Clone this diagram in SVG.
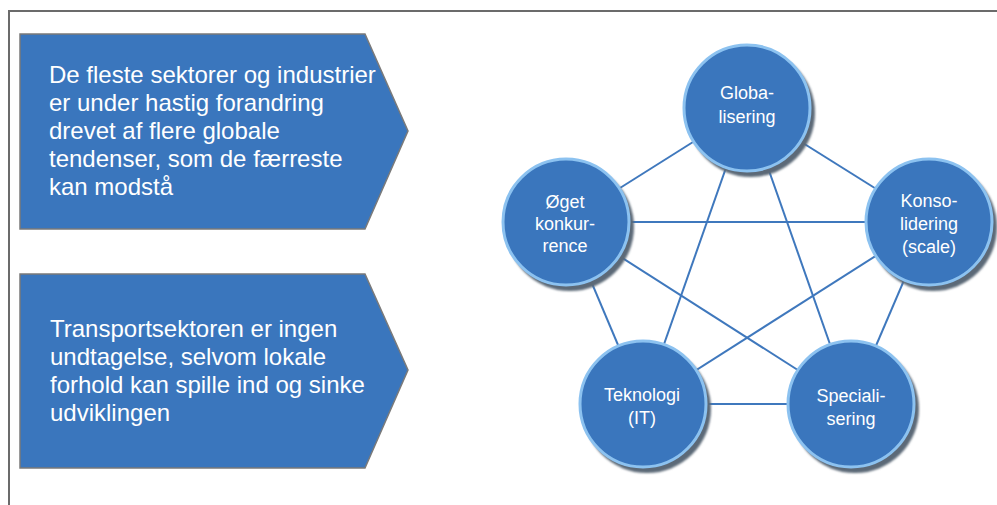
<svg xmlns="http://www.w3.org/2000/svg" width="997" height="505" viewBox="0 0 997 505">
  <defs>
    <style>
      .frame { fill: none; stroke: #6b6b6b; stroke-width: 2; }
      .box { fill: #3a76bd; stroke: #7a7a7a; stroke-width: 1.5; }
      .boxtext { font-family: "Liberation Sans", Arial, sans-serif; font-size: 24px; fill: #ffffff; }
      .edge { stroke: #3f78bd; stroke-width: 2; fill: none; }
      .shadow { fill: #5b6977; }
      .disc { fill: #3a76bd; stroke: #8cc2f0; stroke-width: 3; }
      .label { font-family: "Liberation Sans", Arial, sans-serif; font-size: 18px; fill: #ffffff; text-anchor: middle; }
    </style>
    <filter id="soft" x="-20%" y="-20%" width="140%" height="140%">
      <feGaussianBlur stdDeviation="1.2"/>
    </filter>
  </defs>

  <rect width="997" height="505" fill="#ffffff"/>

  <!-- slide frame, open to the right and bottom -->
  <path class="frame" d="M9,506 V11 H998"/>

  <!-- left-hand statement arrows -->
  <g id="statement-global">
    <polygon class="box" points="20,34 365,34 408,131 365,229 20,229"/>
    <text class="boxtext">
      <tspan x="49" y="83">De fleste sektorer og industrier</tspan>
      <tspan x="49" y="111">er under hastig forandring</tspan>
      <tspan x="49" y="139">drevet af flere globale</tspan>
      <tspan x="49" y="167">tendenser, som de færreste</tspan>
      <tspan x="49" y="195">kan modstå</tspan>
    </text>
  </g>

  <g id="statement-transport">
    <polygon class="box" points="20,274 365,274 408,370 365,468 20,468"/>
    <text class="boxtext">
      <tspan x="50" y="337">Transportsektoren er ingen</tspan>
      <tspan x="50" y="365">undtagelse, selvom lokale</tspan>
      <tspan x="50" y="393">forhold kan spille ind og sinke</tspan>
      <tspan x="50" y="421">udviklingen</tspan>
    </text>
  </g>

  <!-- every driver is linked to every other driver -->
  <g id="connectors">
    <line class="edge" x1="747" y1="108" x2="566" y2="222"/>
    <line class="edge" x1="747" y1="108" x2="929" y2="222"/>
    <line class="edge" x1="747" y1="108" x2="643" y2="404"/>
    <line class="edge" x1="747" y1="108" x2="851" y2="404"/>
    <line class="edge" x1="566" y1="222" x2="929" y2="222"/>
    <line class="edge" x1="566" y1="222" x2="643" y2="404"/>
    <line class="edge" x1="566" y1="222" x2="851" y2="404"/>
    <line class="edge" x1="929" y1="222" x2="643" y2="404"/>
    <line class="edge" x1="929" y1="222" x2="851" y2="404"/>
    <line class="edge" x1="643" y1="404" x2="851" y2="404"/>
  </g>

  <g id="globalisering">
    <circle class="shadow" cx="751" cy="113" r="64" filter="url(#soft)"/>
    <circle class="disc" cx="747" cy="108" r="63"/>
    <text class="label"><tspan x="747" y="99">Globa-</tspan><tspan x="747" y="123">lisering</tspan></text>
  </g>

  <g id="oeget-konkurrence">
    <circle class="shadow" cx="570" cy="227" r="64" filter="url(#soft)"/>
    <circle class="disc" cx="566" cy="222" r="63"/>
    <text class="label"><tspan x="565" y="208">Øget</tspan><tspan x="565" y="230">konkur-</tspan><tspan x="565" y="252">rence</tspan></text>
  </g>

  <g id="konsolidering">
    <circle class="shadow" cx="933" cy="227" r="64" filter="url(#soft)"/>
    <circle class="disc" cx="929" cy="222" r="63"/>
    <text class="label"><tspan x="929" y="207">Konso-</tspan><tspan x="929" y="230">lidering</tspan><tspan x="929" y="253">(scale)</tspan></text>
  </g>

  <g id="teknologi">
    <circle class="shadow" cx="647" cy="409" r="64" filter="url(#soft)"/>
    <circle class="disc" cx="643" cy="404" r="63"/>
    <text class="label"><tspan x="642" y="401">Teknologi</tspan><tspan x="642" y="424">(IT)</tspan></text>
  </g>

  <g id="specialisering">
    <circle class="shadow" cx="855" cy="409" r="64" filter="url(#soft)"/>
    <circle class="disc" cx="851" cy="404" r="63"/>
    <text class="label"><tspan x="851" y="402">Speciali-</tspan><tspan x="851" y="425">sering</tspan></text>
  </g>
</svg>
